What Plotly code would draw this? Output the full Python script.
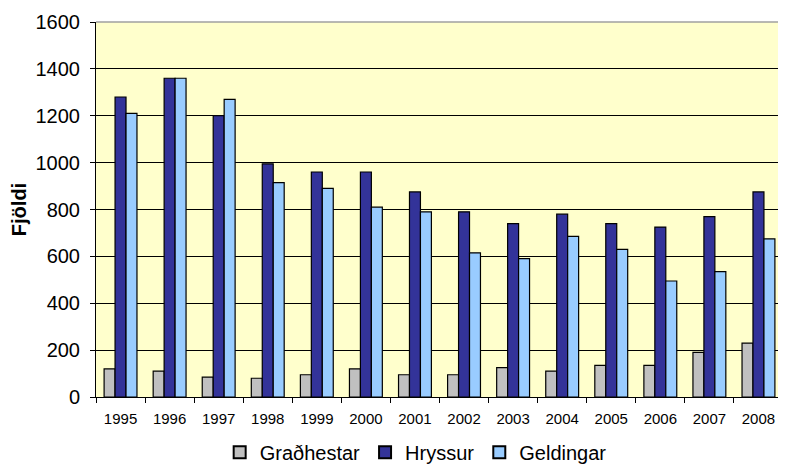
import plotly.graph_objects as go

years = ["1995", "1996", "1997", "1998", "1999", "2000", "2001",
         "2002", "2003", "2004", "2005", "2006", "2007", "2008"]
gradhestar = [120, 110, 85, 80, 95, 120, 95, 95, 125, 110, 135, 135, 190, 230]
hryssur = [1280, 1360, 1200, 995, 960, 960, 875, 790, 740, 780, 740, 725, 770, 875]
geldingar = [1210, 1360, 1270, 915, 890, 810, 790, 615, 590, 685, 630, 495, 535, 675]
y_ticks = [0, 200, 400, 600, 800, 1000, 1200, 1400, 1600]

series = [
    ("Graðhestar", gradhestar, "#C0C0C0"),
    ("Hryssur", hryssur, "#333399"),
    ("Geldingar", geldingar, "#99CCFF"),
]

fig = go.Figure()
for name, vals, col in series:
    fig.add_trace(go.Bar(
        x=years, y=vals, name=name,
        marker=dict(color=col, line=dict(color="#000000", width=1.2)),
    ))

font = "Arial, Liberation Sans, sans-serif"
fig.update_layout(
    width=778, height=458,
    margin=dict(l=88, r=3, t=11, b=69),
    paper_bgcolor="#FFFFFF",
    plot_bgcolor="#FFFFCC",
    barmode="group",
    bargap=0.33,
    bargroupgap=0,
    font=dict(family=font, color="#000000"),
    showlegend=True,
    legend=dict(orientation="h", xref="container", yref="container",
                x=0.524, xanchor="center", y=0.03, yanchor="middle",
                font=dict(size=20, family=font), itemsizing="constant",
                traceorder="normal", itemwidth=30),
    xaxis=dict(
        type="category",
        tickson="boundaries",
        ticks="outside", ticklen=5, tickcolor="#000000",
        showline=True, linecolor="#000000", linewidth=1,
        showgrid=False,
        tickfont=dict(size=15, family=font),
        ticklabelstandoff=8,
    ),
    yaxis=dict(
        range=[0, 1600],
        tickvals=y_ticks,
        ticks="outside", ticklen=5, tickcolor="#000000",
        showline=True, linecolor="#000000", linewidth=1,
        showgrid=True, gridcolor="#000000", gridwidth=1,
        tickfont=dict(size=20, family=font),
        ticklabelstandoff=6,
        zeroline=False,
        title=dict(text="<b>Fjöldi</b>", font=dict(size=20, family=font), standoff=3),
    ),
    shapes=[
        dict(type="line", xref="paper", yref="paper", x0=0, x1=1, y0=1, y1=1,
             line=dict(color="#A0A0A0", width=1.5)),
        dict(type="line", xref="paper", yref="paper", x0=1, x1=1, y0=0, y1=1,
             line=dict(color="#A0A0A0", width=1.5)),
    ],
)

fig.write_html("out.html")
